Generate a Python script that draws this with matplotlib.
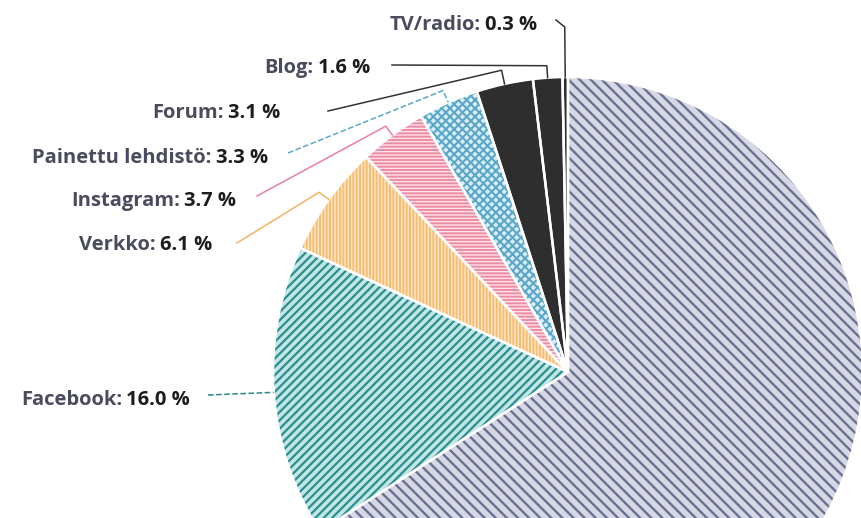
import numpy as np
import matplotlib
matplotlib.use('Agg')
import matplotlib.pyplot as plt

plt.rcParams['font.family'] = ['Open Sans', 'DejaVu Sans']
plt.rcParams['hatch.linewidth'] = 1.6

# share of mentions by source, counter-clockwise from 12 o'clock
sources = ['TV/radio', 'Blog', 'Forum', 'Painettu lehdistö', 'Instagram',
           'Verkko', 'Facebook', 'Twitter']
shares = [0.3, 1.6, 3.1, 3.3, 3.7, 6.1, 16.0, 65.9]

# fill / hatch colour / hatch pattern / hatch width per source
faces = ['#2e2e2e', '#2e2e2e', '#2e2e2e', '#d9eef6', '#ec8ca4',
         '#f6bc72', '#c2e6e6', '#d6d8e5']
hatch_cols = ['#2e2e2e', '#2e2e2e', '#2e2e2e', '#5aa7c9', '#fbe1e8',
              '#fde6c6', '#2b8f90', '#6b7090']
hatches = [None, None, None, 'xxxx', '-----', '|||||', '////', '\\\\\\']
hatch_lw = [1, 1, 1, 1.5, 1.0, 1.0, 1.6, 1.7]

# label anchors (right end of text) and where the leader starts
label_xy = [(537, 493), (370, 450), (280, 405), (268, 360),
            (236, 317), (212, 273), (190, 118)]
leader_start = [(556, 498), (392, 453), (328, 407), (288, 365),
                (257, 322), (237, 275), (208, 123)]
elbow_r = [345, 307, 309, 308, 306, 307, None]
line_cols = ['#333333', '#333333', '#333333', '#5aa7c9', '#e8819b',
             '#f3b468', '#2a8a8c']
line_styles = ['-', '-', '-', '--', '-', '-', '--']

W, H = 862, 518
cx, cy, R = 568, 146, 295

fig = plt.figure(figsize=(W / 100, H / 100), dpi=100)
ax = fig.add_axes([0, 0, 1, 1])

wedges, _ = ax.pie(shares, startangle=90, counterclock=True, radius=R,
                   center=(cx, cy), colors=faces,
                   wedgeprops=dict(linewidth=0))
for w, hc, h, hl in zip(wedges, hatch_cols, hatches, hatch_lw):
    w.set_edgecolor(hc)
    w.set_linewidth(0)
    if h:
        w.set_hatch(h)
        if hasattr(w, 'set_hatch_linewidth'):
            w.set_hatch_linewidth(hl)
        else:
            w._hatch_linewidth = hl

# white separators on top
ax.pie(shares, startangle=90, counterclock=True, radius=R, center=(cx, cy),
       colors=['none'] * len(shares),
       wedgeprops=dict(edgecolor='white', linewidth=1.8, facecolor='none'))

ax.set_xlim(0, W)
ax.set_ylim(0, H)
ax.set_aspect('equal')
ax.axis('off')

# leader lines: from label to the middle of each wedge's rim
for i in range(len(label_xy)):
    w = wedges[i]
    mid = np.deg2rad((w.theta1 + w.theta2) / 2)
    end = (cx + R * np.cos(mid), cy + R * np.sin(mid))
    pts = [leader_start[i]]
    if elbow_r[i]:
        pts.append((cx + elbow_r[i] * np.cos(mid), cy + elbow_r[i] * np.sin(mid)))
    pts.append(end)
    xs, ys = zip(*pts)
    ax.plot(xs, ys, color=line_cols[i], lw=1.1, ls=line_styles[i],
            solid_joinstyle='round')

    x, y = label_xy[i]
    val = ax.text(x, y, f'{shares[i]:.1f} %', ha='right', va='center',
                  fontsize=14.5, fontweight='bold', color='#1c1c1c')
    ax.annotate(f'{sources[i]}:', xy=(0, y), xycoords=(val, 'data'),
                xytext=(-3, 0), textcoords='offset points',
                ha='right', va='center', fontsize=14.5, fontweight='bold',
                color='#4a4b5d')

fig.savefig('out.png', dpi=100)
